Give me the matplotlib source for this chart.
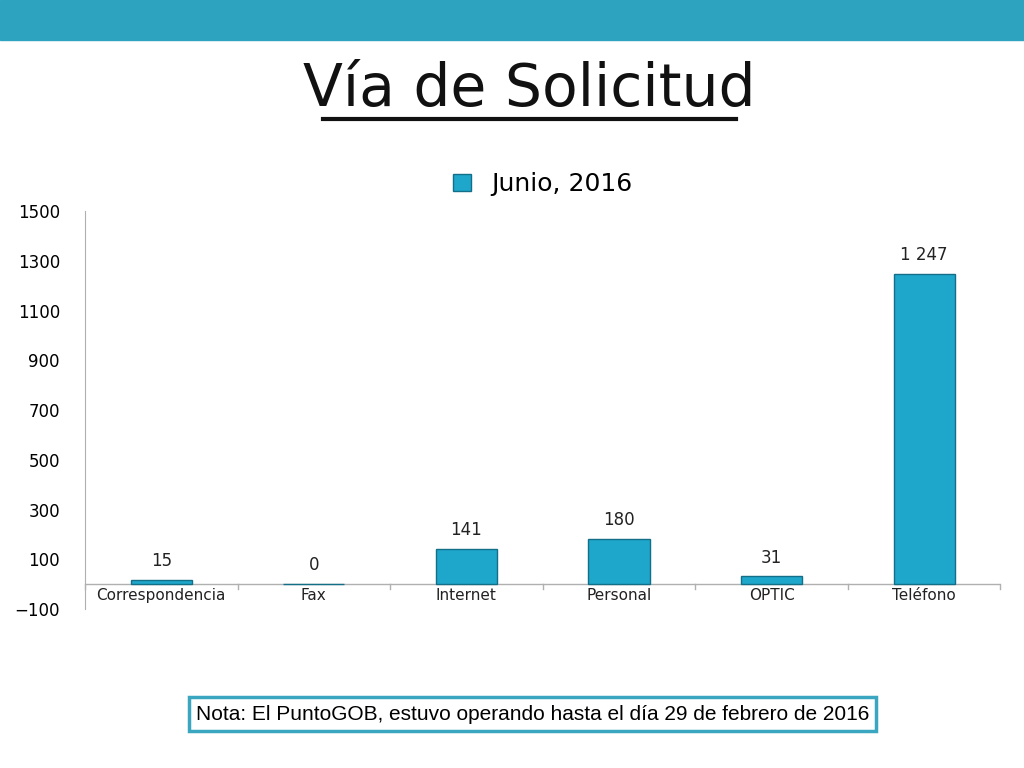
import numpy as np
import matplotlib.pyplot as plt
from matplotlib.patches import Rectangle

# Data
categories = ['Correspondencia', 'Fax', 'Internet', 'Personal', 'OPTIC', 'Teléfono']
values = [15, 0, 141, 180, 31, 1247]
labels = ['15', '0', '141', '180', '31', '1 247']
yticks = [-100, 100, 300, 500, 700, 900, 1100, 1300, 1500]

fig = plt.figure(figsize=(10.24, 7.68), dpi=100)

# top banner
fig.patches.append(Rectangle((0, 1 - 40 / 768), 1, 40 / 768, transform=fig.transFigure,
                             color='#2ea3c0', zorder=0))

# title with underline
fig.text(0.517, 0.884, 'Vía de Solicitud', ha='center', va='center', fontsize=42,
         color='#111111')
fig.lines.append(plt.Line2D([0.315, 0.719], [0.845, 0.845], transform=fig.transFigure,
                            color='#111111', linewidth=3))

ax = fig.add_axes([0.083, 0.207, 0.894, 0.518])
x = np.arange(len(categories))
bars = ax.bar(x, values, width=0.4, color='#1ea6cb', edgecolor='#136f88', linewidth=1,
              label='Junio, 2016', zorder=3)
for xi, v, lab in zip(x, values, labels):
    ax.text(xi, v + 40, lab, ha='center', va='bottom', fontsize=12, color='#222222')

ax.set_xlim(-0.5, len(categories) - 0.5)
ax.set_ylim(-100, 1500)
ax.set_yticks(yticks)
ax.tick_params(axis='y', labelsize=12, length=0, pad=18)
ax.set_xticks([])
for xi, c in zip(x, categories):
    ax.text(xi, -45, c, ha='center', va='center', fontsize=11, color='#222222')
# category separators
for b in np.arange(-0.5, len(categories), 1.0):
    ax.plot([b, b], [0, -20], color='#b0b0b0', linewidth=1, clip_on=False)
ax.axhline(0, color='#b0b0b0', linewidth=1, zorder=2)
for s in ['top', 'right', 'bottom']:
    ax.spines[s].set_visible(False)
ax.spines['left'].set_color('#b0b0b0')

ax.legend(loc='lower center', bbox_to_anchor=(0.5, 1.0), frameon=False, fontsize=18,
          handlelength=0.7, handleheight=0.7, borderaxespad=0.2)

# note box
fig.text(0.52, 0.07, 'Nota: El PuntoGOB, estuvo operando hasta el día 29 de febrero de 2016',
         ha='center', va='center', fontsize=15, family='Liberation Sans',
         bbox=dict(boxstyle='square,pad=0.35', facecolor='white', edgecolor='#3aa6c0',
                   linewidth=2.5))

fig.savefig('out.png', dpi=100)
